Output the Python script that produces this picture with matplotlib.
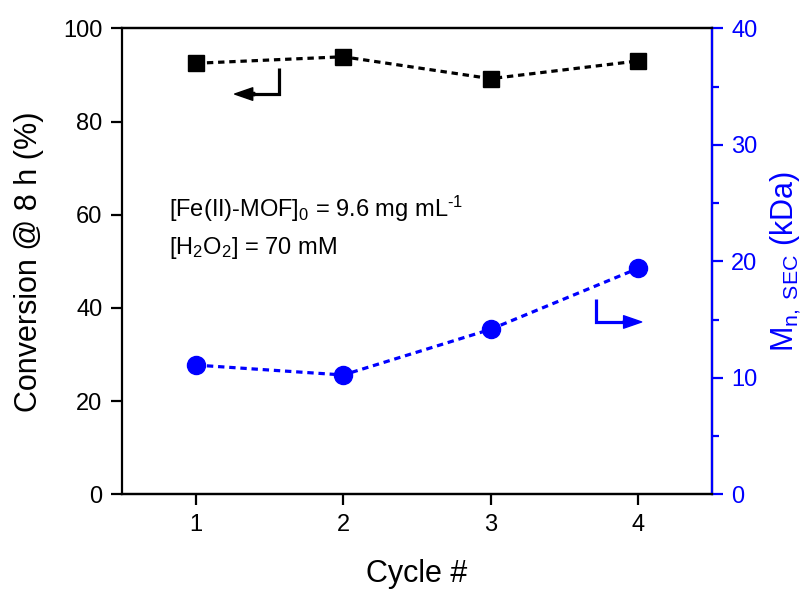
import matplotlib
matplotlib.use("Agg")
import matplotlib.pyplot as plt
from matplotlib.ticker import MultipleLocator

plt.rcParams['font.family'] = ['Liberation Sans', 'DejaVu Sans']
plt.rcParams['mathtext.fontset'] = 'custom'
plt.rcParams['mathtext.rm'] = 'Liberation Sans'
plt.rcParams['mathtext.it'] = 'Liberation Sans'

cycles = [1, 2, 3, 4]
conversion = [92.5, 93.9, 89.2, 93.0]
mn_sec = [11.1, 10.25, 14.17, 19.4]

BLUE = '#0000ff'

fig = plt.figure(figsize=(8.08, 5.90), dpi=100)
ax = fig.add_axes([0.151, 0.162, 0.730, 0.790])
ax2 = ax.twinx()

ax.plot(cycles, conversion, color='black', ls=(0, (2.0, 1.5)), lw=2.3,
        marker='s', ms=12, zorder=3)
ax2.plot(cycles, mn_sec, color=BLUE, ls=(0, (2.0, 1.5)), lw=2.3,
         marker='o', ms=13, zorder=3)

ax.set_xlim(0.5, 4.5)
ax.set_ylim(0, 100)
ax2.set_ylim(0, 40)
ax.set_xticks(cycles)
ax.set_yticks([0, 20, 40, 60, 80, 100])
ax2.set_yticks([0, 10, 20, 30, 40])
ax2.yaxis.set_minor_locator(MultipleLocator(5))

for a in (ax, ax2):
    for s in a.spines.values():
        s.set_linewidth(1.6)
ax2.spines['right'].set_color(BLUE)
ax2.spines['left'].set_visible(False)

ax.tick_params(axis='both', which='major', direction='out', length=8, width=1.6,
               labelsize=17, colors='black', pad=6)
ax.tick_params(axis='x', top=False)
ax2.tick_params(axis='y', which='major', direction='out', length=8, width=1.6,
                labelsize=17, colors=BLUE, pad=6)
ax2.tick_params(axis='y', which='minor', direction='out', length=5, width=1.6,
                colors=BLUE)

ax.set_xlabel('Cycle #', fontsize=22, labelpad=17)
ax.set_ylabel('Conversion @ 8 h (%)', fontsize=22, labelpad=14)
ax2.set_ylabel(r'M$_{\rm n,\ SEC}$ (kDa)', fontsize=22, color=BLUE, labelpad=8)

ax.text(0.817, 59.5, r'[Fe(II)-MOF]$_0$ = 9.6 mg mL$^{\text{-}1}$', fontsize=17, va='baseline')
ax.text(0.817, 51.5, r'[H$_2$O$_2$] = 70 mM', fontsize=17, va='baseline')

# black arrow pointing left
ax.plot([1.564, 1.564, 1.33], [91.5, 85.9, 85.9], color='black', lw=2.3,
        solid_joinstyle='miter', solid_capstyle='butt')
ax.annotate('', xy=(1.264, 85.9), xytext=(1.40, 85.9),
            arrowprops=dict(width=2.3, headwidth=9, headlength=13,
                            color='black', shrink=0))
# blue arrow pointing right
ax2.plot([3.717, 3.717, 3.95], [16.75, 14.80, 14.80], color=BLUE, lw=2.3,
         solid_joinstyle='miter', solid_capstyle='butt')
ax2.annotate('', xy=(4.024, 14.80), xytext=(3.90, 14.80),
             arrowprops=dict(width=2.3, headwidth=9, headlength=13,
                             color=BLUE, shrink=0))

fig.savefig('out.png', dpi=100)
